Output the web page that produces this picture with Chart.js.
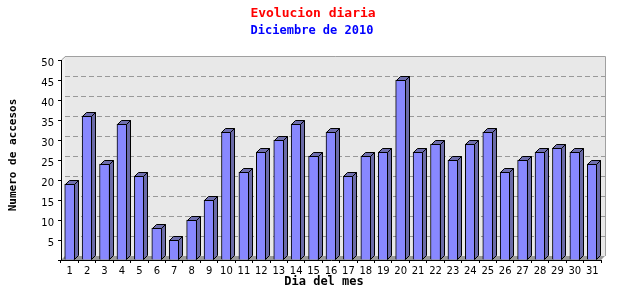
<!DOCTYPE html>
<html>
<head>
<meta charset="utf-8">
<script src="https://cdn.jsdelivr.net/npm/chart.js@4"></script>
<style>
html,body{margin:0;padding:0;background:#fff;}
canvas{display:block;}
</style>
</head>
<body>
<canvas id="c" width="640" height="300"></canvas>
<script>
const titleText = 'Evolucion diaria';
const subtitleText = 'Diciembre de 2010';
const xTitle = 'Dia del mes';
const yTitle = 'Numero de accesos';
const days = ['1','2','3','4','5','6','7','8','9','10','11','12','13','14','15','16','17','18','19','20','21','22','23','24','25','26','27','28','29','30','31'];
const accesos = [19,36,24,34,21,8,5,10,15,32,22,27,30,34,26,32,21,26,27,45,27,29,25,29,32,22,25,27,28,27,24];
const yMin = 0, yMax = 50, yStep = 5;

const DX = 4, DY = 4;

const threeD = {
  id: 'threeD',
  beforeDraw(chart) {
    const {ctx, chartArea: {left, right, top, bottom}} = chart;
    const ys = chart.scales.y;
    ctx.save();
    // left wall
    ctx.fillStyle = '#f0f0f0';
    ctx.beginPath();
    ctx.moveTo(left, bottom); ctx.lineTo(left, top);
    ctx.lineTo(left + DX, top - DY); ctx.lineTo(left + DX, bottom - DY);
    ctx.closePath(); ctx.fill();
    ctx.strokeStyle = '#a0a0a0'; ctx.lineWidth = 1;
    ctx.beginPath(); ctx.moveTo(left + 0.5, top); ctx.lineTo(left + DX + 0.5, top - DY + 0.5); ctx.stroke();
    // back wall
    ctx.fillStyle = '#e8e8e8';
    ctx.fillRect(left + DX, top - DY, right - left, bottom - top);
    ctx.strokeStyle = '#a0a0a0';
    ctx.beginPath();
    ctx.moveTo(left + DX, top - DY + 0.5);
    ctx.lineTo(right + DX + 0.5, top - DY + 0.5);
    ctx.lineTo(right + DX + 0.5, bottom - DY);
    ctx.stroke();
    // grid lines on back wall
    ctx.strokeStyle = '#999999';
    ctx.setLineDash([5, 3]);
    for (let v = yMin + yStep; v < yMax; v += yStep) {
      const py = Math.round(ys.getPixelForValue(v) - DY) + 0.5;
      ctx.beginPath(); ctx.moveTo(left + DX, py); ctx.lineTo(right + DX, py); ctx.stroke();
    }
    ctx.setLineDash([]);
    // floor
    ctx.fillStyle = '#9a9a9a';
    ctx.beginPath();
    ctx.moveTo(left, bottom); ctx.lineTo(right, bottom);
    ctx.lineTo(right + DX, bottom - DY); ctx.lineTo(left + DX, bottom - DY);
    ctx.closePath(); ctx.fill();
    // titles
    ctx.textAlign = 'center'; ctx.textBaseline = 'middle';
    ctx.fillStyle = '#ff0000';
    ctx.font = 'bold 13px "DejaVu Sans Mono"';
    ctx.fillText(titleText, 313, 14);
    ctx.fillStyle = '#0000ff';
    ctx.font = 'bold 12px "DejaVu Sans Mono"';
    ctx.fillText(subtitleText, 312, 31);
    ctx.fillStyle = '#000';
    ctx.font = 'bold 12px "DejaVu Sans Mono"';
    ctx.fillText(xTitle, 324, 282);
    ctx.save();
    ctx.translate(13, 155);
    ctx.rotate(-Math.PI / 2);
    ctx.font = 'bold 11px "DejaVu Sans Mono"';
    ctx.fillText(yTitle, 0, 0);
    ctx.restore();
    ctx.restore();
  },
  afterDatasetsDraw(chart) {
    const {ctx} = chart;
    const meta = chart.getDatasetMeta(0);
    ctx.save();
    ctx.lineWidth = 1;
    ctx.strokeStyle = '#000';
    meta.data.forEach(el => {
      const {x, y, base, width} = el.getProps(['x', 'y', 'base', 'width'], true);
      const xl = Math.round(x - width / 2) + 0.5;
      const xr = Math.round(x + width / 2) - 0.5;
      const yt = Math.round(y) + 0.5;
      const yb = Math.round(base) - 0.5;
      // side
      ctx.fillStyle = '#6b6ba8';
      ctx.beginPath();
      ctx.moveTo(xr, yt); ctx.lineTo(xr + DX, yt - DY);
      ctx.lineTo(xr + DX, yb - DY); ctx.lineTo(xr, yb);
      ctx.closePath(); ctx.fill(); ctx.stroke();
      // top
      ctx.fillStyle = '#6f6fae';
      ctx.beginPath();
      ctx.moveTo(xl, yt); ctx.lineTo(xl + DX, yt - DY);
      ctx.lineTo(xr + DX, yt - DY); ctx.lineTo(xr, yt);
      ctx.closePath(); ctx.fill(); ctx.stroke();
    });
    ctx.restore();
  }
};

new Chart(document.getElementById('c'), {
  type: 'bar',
  data: {
    labels: days,
    datasets: [{
      data: accesos,
      backgroundColor: '#8888ff',
      borderColor: '#000000',
      borderWidth: 1,
      barThickness: 10
    }]
  },
  options: {
    responsive: false,
    animation: false,
    layout: {padding: {top: 60, right: 39, left: 0, bottom: 0}},
    plugins: {legend: {display: false}, tooltip: {enabled: false}, title: {display: false}},
    scales: {
      x: {
        grid: {display: true, drawOnChartArea: false, drawTicks: true, tickLength: 3, color: '#000', offset: true},
        border: {display: true, color: '#000'},
        ticks: {font: {family: 'DejaVu Sans', size: 10}, color: '#000', padding: 2, maxRotation: 0, autoSkip: false},
        afterFit: s => { s.height = 40; }
      },
      y: {
        min: yMin, max: yMax,
        grid: {display: true, drawOnChartArea: false, drawTicks: true, tickLength: 3, color: '#000'},
        border: {display: true, color: '#000'},
        ticks: {stepSize: yStep, font: {family: 'DejaVu Sans', size: 10}, color: '#000', padding: 4, labelOffset: 3,
          callback: v => v === 0 ? '' : v},
        afterFit: s => { s.width = 61; }
      }
    }
  },
  plugins: [threeD]
});
</script>
</body>
</html>
